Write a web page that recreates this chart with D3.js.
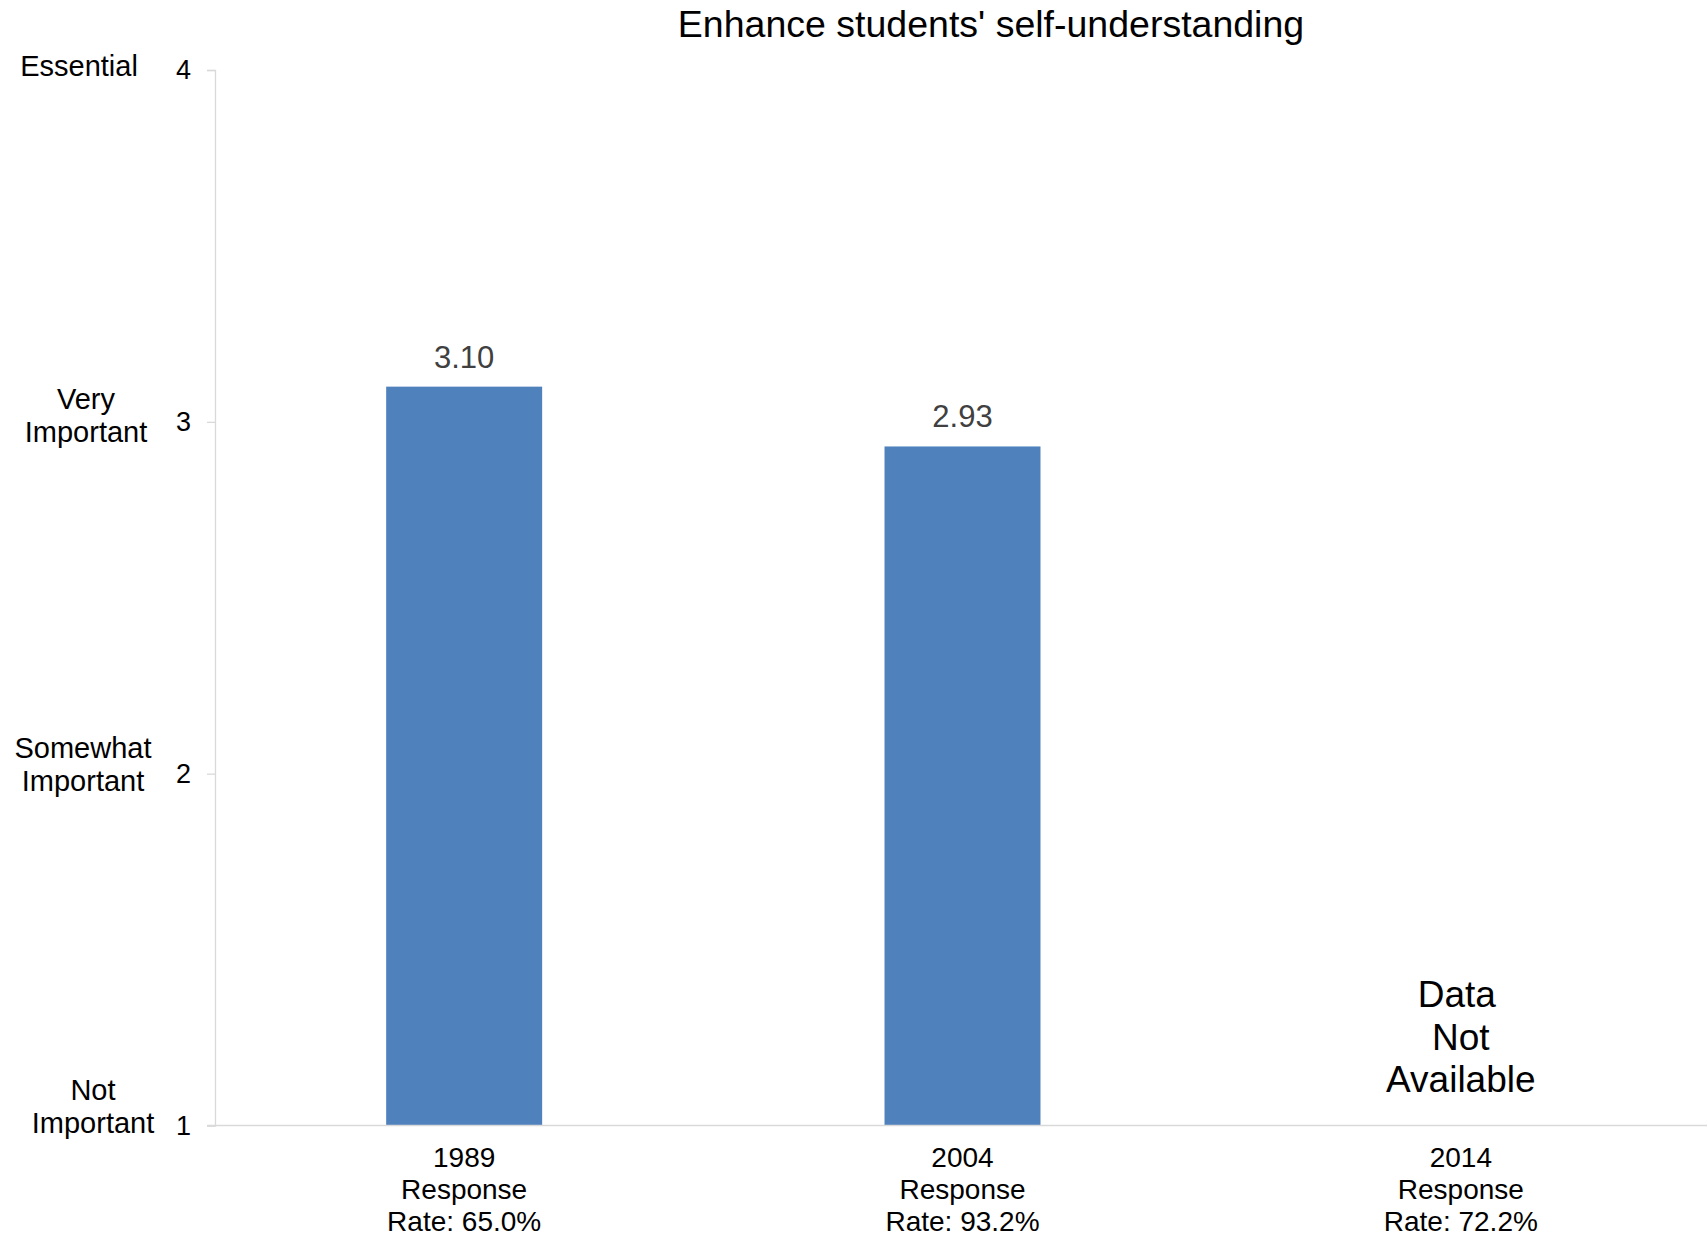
<!DOCTYPE html>
<html>
<head>
<meta charset="utf-8">
<script src="https://cdn.jsdelivr.net/npm/d3@7"></script>
<style>
  html, body { margin: 0; padding: 0; background: #ffffff; }
  svg { display: block; font-family: "Liberation Sans", Arial, sans-serif; }
</style>
</head>
<body>
<svg id="chart" width="1707" height="1239"></svg>
<script>
// ---- data ----
const title = "Enhance students' self-understanding";
const categories = ["1989", "2004", "2014"];
const responseRates = ["65.0%", "93.2%", "72.2%"];
const values = [3.10, 2.93, null];
const missingText = ["Data", "Not", "Available"];
const yTicks = [1, 2, 3, 4];
const yTickLabels = [["Not", "Important"], ["Somewhat", "Important"], ["Very", "Important"], ["Essential"]];

(function () {
// ---- layout ----
const W = 1707, H = 1239;
const mLeft = 215, mRight = 1710, mTop = 70, mBottom = 1125.5;
const svg = d3.select("#chart");

const x = d3.scaleBand().domain(categories).range([mLeft, mRight]).padding(0);
const y = d3.scaleLinear().domain([1, 4]).range([mBottom, mTop]);
const barW = x.bandwidth() * 0.313;

// title
svg.append("text")
  .attr("x", 991).attr("y", 37)
  .attr("text-anchor", "middle")
  .attr("font-size", 37.5)
  .attr("fill", "#000")
  .text(title);

// y axis
const yAxis = d3.axisLeft(y).tickValues(yTicks).tickSize(8).tickPadding(16).tickFormat(d3.format("d"));
const gy = svg.append("g").attr("transform", `translate(${mLeft},0)`).call(yAxis);
gy.select(".domain").attr("stroke", "#d9d9d9").attr("stroke-width", 1.3);
gy.selectAll(".tick line").attr("stroke", "#d9d9d9").attr("stroke-width", 1.3);
gy.selectAll(".tick text").attr("font-size", 27).attr("fill", "#000")
  .attr("font-family", "'Liberation Sans', Arial, sans-serif");

// y category labels (text beside ticks)
const labelX = [93, 83, 86, 79];
const labelDy = [-19, -9, -6, -4];
const lineH = 33;
yTicks.forEach((t, i) => {
  const lines = yTickLabels[i];
  const cy = y(t) + labelDy[i];
  const t0 = svg.append("text")
    .attr("text-anchor", "middle")
    .attr("font-size", 29)
    .attr("fill", "#000");
  lines.forEach((ln, j) => {
    const base = cy + 10 + (j - (lines.length - 1) / 2) * lineH;
    t0.append("tspan").attr("x", labelX[i]).attr("y", base).text(ln);
  });
});

// bars
const bars = categories.map((c, i) => ({ c, v: values[i] })).filter(d => d.v !== null);
svg.selectAll("rect.bar").data(bars).enter().append("rect")
  .attr("class", "bar")
  .attr("x", d => x(d.c) + x.bandwidth() / 2 - barW / 2)
  .attr("y", d => y(d.v))
  .attr("width", barW)
  .attr("height", d => y(1) - y(d.v))
  .attr("fill", "#4f81bd");

// data labels
svg.selectAll("text.val").data(bars).enter().append("text")
  .attr("class", "val")
  .attr("x", d => x(d.c) + x.bandwidth() / 2)
  .attr("y", d => y(d.v) - 19)
  .attr("text-anchor", "middle")
  .attr("font-size", 31)
  .attr("fill", "#404040")
  .text(d => d3.format(".2f")(d.v));

// x axis baseline
const xAxis = d3.axisBottom(x).tickSize(0).tickFormat("");
const gx = svg.append("g").attr("transform", `translate(0,${mBottom})`).call(xAxis);
gx.select(".domain").attr("stroke", "#d9d9d9").attr("stroke-width", 1.5)
  .attr("d", `M${mLeft - 8},0H${W}`);

// x category labels
categories.forEach((c, i) => {
  const t0 = svg.append("text")
    .attr("text-anchor", "middle")
    .attr("font-size", 28)
    .attr("fill", "#000");
  const cx = x(c) + x.bandwidth() / 2;
  [c, "Response", "Rate: " + responseRates[i]].forEach((ln, j) => {
    t0.append("tspan").attr("x", cx).attr("y", 1167 + j * 32).text(ln);
  });
});

// missing data note
values.forEach((v, i) => {
  if (v !== null) return;
  const t0 = svg.append("text")
    .attr("text-anchor", "middle")
    .attr("font-size", 37)
    .attr("fill", "#000");
  const cx = x(categories[i]) + x.bandwidth() / 2;
  missingText.forEach((ln, j) => {
    t0.append("tspan").attr("x", cx - (j === 0 ? 4 : 0)).attr("y", 1007 + j * 42.5).text(ln);
  });
});
})();
</script>
</body>
</html>
